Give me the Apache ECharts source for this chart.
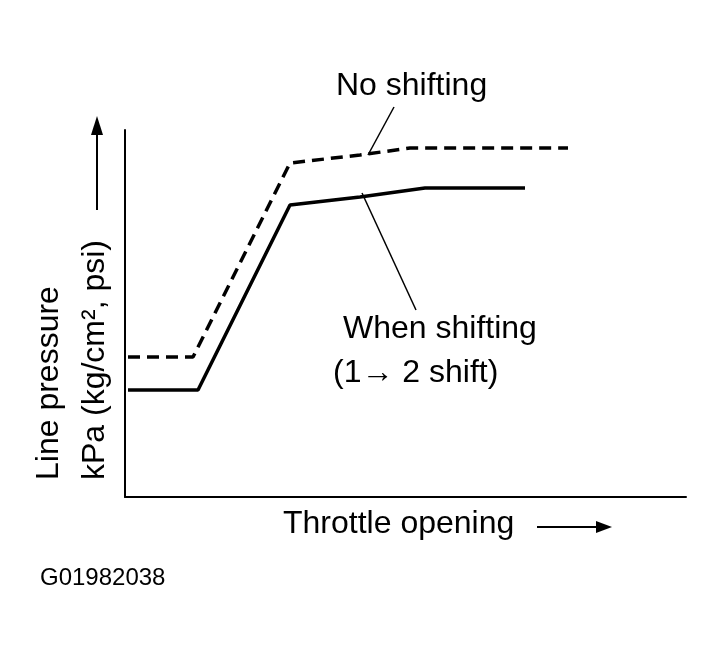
<!DOCTYPE html>
<html><head><meta charset="utf-8">
<script src="https://cdn.jsdelivr.net/npm/echarts@6/dist/echarts.min.js"></script>
<style>html,body{margin:0;background:#fff}#c{width:724px;height:663px}</style>
</head><body><div id="c"></div>
<script>
const solidX=[3,73,165,235,300,400];
const solidY=[107,107,292,300,309,309];
const dashX=[3,68,165,235,285,443];
const dashY=[140,140,334,342,349,349];
const labels={x:'Throttle opening',y1:'Line pressure',y2:'kPa (kg/cm², psi)',noShift:'No shifting',shift1:'When shifting',shift2:'(1\u2192 2 shift)',code:'G01982038'};
const F='"Liberation Sans", Arial, sans-serif';
const ch=echarts.init(document.getElementById('c'));
const T=(x,y,t,extra)=>Object.assign({type:'text',x,y,style:{text:t,font:'32px '+F,fill:'#000'}},extra||{});
ch.setOption({
 animation:false,
 grid:{left:125,top:130,width:561,height:367},
 xAxis:{type:'value',min:0,max:561,axisLine:{lineStyle:{color:'#000',width:2}},axisTick:{show:false},axisLabel:{show:false},splitLine:{show:false}},
 yAxis:{type:'value',min:0,max:367,axisLine:{show:true,lineStyle:{color:'#000',width:2}},axisTick:{show:false},axisLabel:{show:false},splitLine:{show:false}},
 series:[
  {type:'line',data:solidX.map((x,i)=>[x,solidY[i]]),symbol:'none',lineStyle:{color:'#000',width:3.5}},
  {type:'line',data:dashX.map((x,i)=>[x,dashY[i]]),symbol:'none',lineStyle:{color:'#000',width:3.5,type:[12,7]}}
 ],
 graphic:[
  T(336,70,labels.noShift),
  {type:'line',shape:{x1:368,y1:155,x2:394,y2:107},style:{stroke:'#000',lineWidth:1.5}},
  {type:'line',shape:{x1:362,y1:193,x2:416,y2:310},style:{stroke:'#000',lineWidth:1.5}},
  T(343,313,labels.shift1),
  T(333,357,labels.shift2),
  T(283,508,labels.x),
  {type:'line',shape:{x1:537,y1:527,x2:598,y2:527},style:{stroke:'#000',lineWidth:2}},
  {type:'polygon',shape:{points:[[596,521],[612,527],[596,533]]},style:{fill:'#000'}},
  T(40,566,labels.code,{style:{text:labels.code,font:'24px '+F,fill:'#000'}}),
  T(33,480,labels.y1,{rotation:Math.PI/2}),
  T(79,480,labels.y2,{rotation:Math.PI/2}),
  {type:'line',shape:{x1:97,y1:210,x2:97,y2:133},style:{stroke:'#000',lineWidth:2}},
  {type:'polygon',shape:{points:[[91,135],[97,116],[103,135]]},style:{fill:'#000'}}
 ]
});
</script></body></html>
